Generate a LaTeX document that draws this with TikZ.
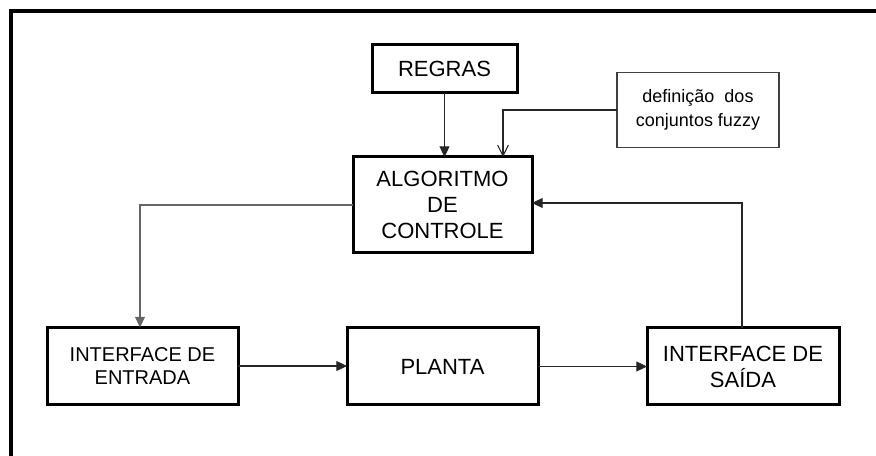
\documentclass[tikz,border=0pt]{standalone}
\usepackage{fontspec}
\setmainfont{Liberation Sans}
\usetikzlibrary{arrows.meta}
\tikzset{
  blk/.style={draw=black, line width=2.25pt, rectangle, inner sep=0pt, outer sep=0pt,
    align=center, font=\fontsize{16.5pt}{19.5pt}\selectfont},
  thinblk/.style={draw=black!75, line width=0.8pt, rectangle, inner sep=0pt, outer sep=0pt,
    align=center, font=\fontsize{13.5pt}{18.5pt}\selectfont},
  conn/.style={draw=black!85, line width=0.8pt},
  fa/.style={conn, -{Triangle[length=8pt,width=7.5pt]}},
  oa/.style={conn, -{Straight Barb[length=8pt,width=8pt]}},
}
\begin{document}
\begin{tikzpicture}[x=0.75pt, y=-0.75pt]
\useasboundingbox (0,0) rectangle (876,456);
% frame
\draw[line width=2.4pt] (11,470) -- (11,11) -- (890,11);

\node[blk, minimum width=145*0.75pt, minimum height=48*0.75pt] (reg) at (444.5,69) {REGRAS};
\node[thinblk, minimum width=162*0.75pt, minimum height=75*0.75pt] (def) at (698,110) {defini\c{c}\~ao\ \ dos\\conjuntos fuzzy};
\node[blk, minimum width=179*0.75pt, minimum height=96*0.75pt] (alg) at (442.5,205) {ALGORITMO\\DE\\CONTROLE};
\node[blk, minimum width=191*0.75pt, minimum height=77*0.75pt, font=\fontsize{15pt}{17.5pt}\selectfont] (ent) at (142.5,366) {INTERFACE DE\\ENTRADA};
\node[blk, minimum width=191*0.75pt, minimum height=77*0.75pt] (pla) at (442.5,366.5) {PLANTA};
\node[blk, minimum width=192*0.75pt, minimum height=77*0.75pt] (sai) at (743,366.5) {INTERFACE DE\\SA\'IDA};

\coordinate (dk) at (503,157);

\draw[fa] (reg.south) -- (reg.south |- alg.north);
\draw[oa] (def.west) -| (dk);
\draw[fa, draw=black!60] (alg.west) -| ([xshift=-2.5*0.75pt]ent.north);
\draw[fa] (ent.east) -- (ent.east -| pla.west);
\draw[fa] (pla.east) -- (pla.east -| sai.west);
\draw[fa] ([xshift=-1*0.75pt]sai.north) |- ([yshift=1.5pt]alg.east);
\end{tikzpicture}
\end{document}
